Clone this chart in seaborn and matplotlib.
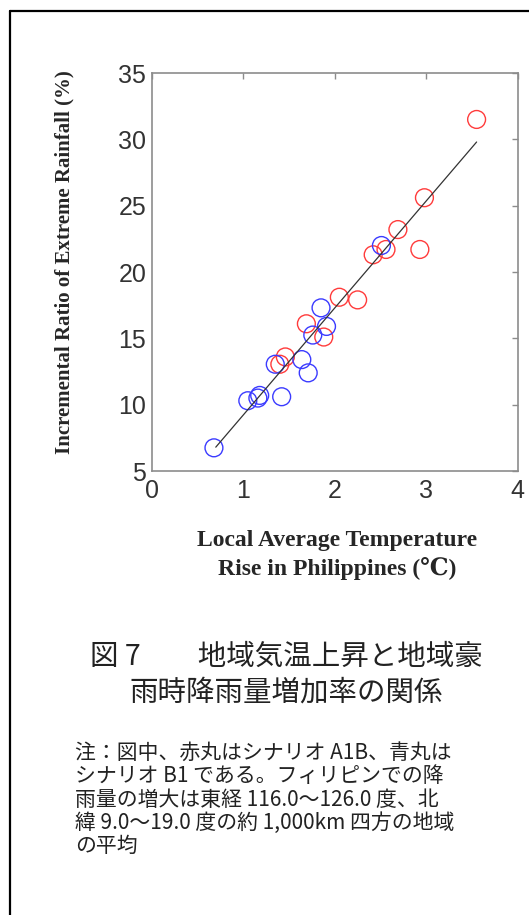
import pandas as pd
import matplotlib.pyplot as plt
from matplotlib.lines import Line2D
import seaborn as sns

# scenario A1B (red circles)
a1b_temp = [3.55, 2.98, 2.69, 2.93, 2.56, 2.42, 2.05, 2.25, 1.69, 1.88, 1.46, 1.40]
a1b_rain = [31.5, 25.6, 23.2, 21.7, 21.7, 21.3, 18.1, 17.9, 16.1, 15.1, 13.6, 13.05]

# scenario B1 (blue circles)
b1_temp = [2.51, 1.85, 1.91, 1.76, 1.64, 1.71, 1.35, 1.42, 1.18, 1.16, 1.05, 0.68]
b1_rain = [22.0, 17.3, 15.9, 15.25, 13.4, 12.4, 13.05, 10.6, 10.7, 10.5, 10.3, 6.75]

# fitted line end points
fit_temp = [0.70, 3.55]
fit_rain = [6.8, 29.8]

x_ticks = [0, 1, 2, 3, 4]
y_ticks = [5, 10, 15, 20, 25, 30, 35]

caption = ["図 7\u3000\u3000地域気温上昇と地域豪", "雨時降雨量増加率の関係"]
note = [
    "注：図中、赤丸はシナリオ A1B、青丸は",
    "シナリオ B1 である。フィリピンでの降",
    "雨量の増大は東経 116.0〜126.0 度、北",
    "緯 9.0〜19.0 度の約 1,000km 四方の地域",
    "の平均",
]

df = pd.DataFrame({
    'temp': a1b_temp + b1_temp,
    'rain': a1b_rain + b1_rain,
    'scenario': ['A1B'] * len(a1b_temp) + ['B1'] * len(b1_temp),
})

sns.set_theme(style="white")
plt.rcParams['font.family'] = ['Liberation Sans', 'DejaVu Sans']

fig = plt.figure(figsize=(5.29, 9.15), dpi=100)
ax = fig.add_axes([0.2868, 0.4852, 0.692, 0.435])

sns.scatterplot(data=df, x='temp', y='rain', hue='scenario',
                palette={'A1B': '#ff3b3b', 'B1': '#3b3bff'},
                marker='o', s=165, facecolor='none', linewidth=1.0,
                legend=False, ax=ax)
# seaborn fills markers with hue colour; turn them into open rings
coll = ax.collections[0]
coll.set_edgecolors(coll.get_facecolors())
coll.set_facecolors('none')

sns.lineplot(x=fit_temp, y=fit_rain, color='#333333', linewidth=0.9, ax=ax)

ax.set_xlim(0, 4)
ax.set_ylim(5, 35)
ax.set_xticks(x_ticks)
ax.set_yticks(y_ticks)
ax.set_xlabel('')
ax.set_ylabel('')
for s in ax.spines.values():
    s.set_color('#8c8c8c')
    s.set_linewidth(1.2)
ax.tick_params(direction='in', length=4, width=1, color='#8c8c8c',
               top=True, right=True, labelsize=18, labelcolor='#333333')
ax.tick_params(axis='y', pad=4)
ax.tick_params(axis='x', pad=6)

serif = ['Liberation Serif', 'DejaVu Serif']
fig.text(0.121, 0.7137, 'Incremental Ratio of Extreme Rainfall (%)',
         rotation=90, ha='center', va='center', fontsize=15,
         fontweight='bold', family=serif)
fig.text(0.637, 0.3934, 'Local Average Temperature\nRise in Philippines (℃)',
         ha='center', va='center', fontsize=17, fontweight='bold',
         family=serif, linespacing=1.35)

cjk = ['Noto Sans CJK JP', 'DejaVu Sans']
for i, line in enumerate(caption):
    fig.text(0.5406, 0.282 - i * 0.0394, line, ha='center', va='center',
             fontsize=20.5, family=cjk, color='#222222')

for i, line in enumerate(note):
    fig.text(0.1418, 0.177 - i * 0.0254, line, ha='left', va='center',
             fontsize=15, family=cjk, color='#222222')

# page frame (left and top edges)
fig.add_artist(Line2D([0.0198, 0.0198], [0.0, 0.988], color='black', linewidth=1.6))
fig.add_artist(Line2D([0.0198, 1.0], [0.988, 0.988], color='black', linewidth=1.6))

fig.savefig('out.png', dpi=100)
